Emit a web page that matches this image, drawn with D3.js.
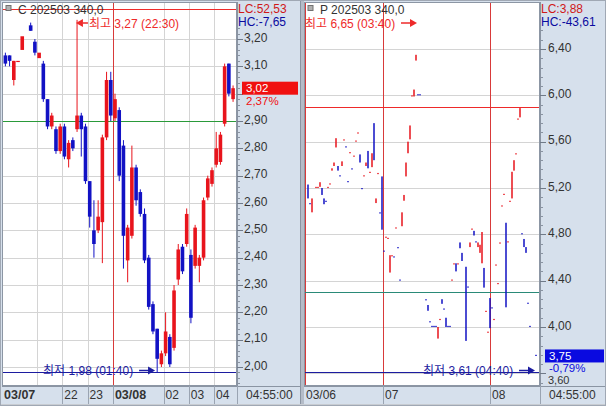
<!DOCTYPE html>
<html><head><meta charset="utf-8">
<script src="https://cdn.jsdelivr.net/npm/d3@7/dist/d3.min.js"></script>
<style>
html,body{margin:0;padding:0;background:#d6e0ec;overflow:hidden;}
svg{display:block;font-family:"Liberation Sans","Noto Sans CJK KR",sans-serif;font-size:12px;}
</style></head><body>
<svg id="c" width="606" height="406"></svg>
<script>
// ---------------- DATA ----------------
// Left panel: call option C 202503 340.0, 10-minute bars starting 19:40 (03/07)
const leftTitle = "C 202503 340,0";
const leftInfo = ["LC:52,53", "HC:-7,65"];
const leftStartTime = "19:40";
const leftBarMinutes = 10;
const leftOpen  = [3.14,3.14,3.05,3.12,3.16,null,3.25,3.19,3.13,3.11, 2.98,2.88,2.87,2.79,2.88,2.76,2.83,2.87,2.92,2.88, 2.68,2.50,2.50,2.53,2.84,3.05,2.91,2.94,2.81,2.39, 2.48,2.73,2.64,2.56,2.40,2.23,2.14,2.01,2.05,2.11, 2.07,2.32,2.44,2.45,2.41,2.37,2.37,2.40,2.62,2.67, 2.74,2.75,2.89,3.11,2.98];
const leftHigh  = [3.15,3.14,3.12,3.12,3.21,null,3.26,3.20,3.15,3.12, 2.98,2.93,2.88,2.89,2.89,2.83,2.84,3.27,2.93,2.89, 2.68,2.61,2.61,2.85,3.08,3.08,3.00,2.95,2.83,2.52, 2.81,2.74,2.65,2.58,2.41,2.24,2.14,2.06,2.20,2.12, 2.30,2.45,2.45,2.58,2.43,2.52,2.41,2.62,2.70,2.73, 2.86,2.86,3.11,3.11,3.03];
const leftLow   = [3.10,3.10,3.03,3.12,3.16,null,3.23,3.14,3.13,2.97, 2.87,2.87,2.78,2.78,2.76,2.73,2.79,2.86,2.77,2.67, 2.51,2.40,2.49,2.38,2.83,2.90,2.90,2.68,2.36,2.31, 2.47,2.59,2.55,2.38,2.21,2.12,1.98,2.00,2.04,2.00, 2.06,2.30,2.34,2.44,2.16,2.36,2.31,2.39,2.61,2.66, 2.73,2.74,2.88,2.99,2.97];
const leftClose = [3.11,3.12,3.12,3.12,3.21,null,3.23,3.15,3.15,2.98, 2.88,2.92,2.79,2.88,2.77,2.82,2.80,2.92,2.87,2.68, 2.55,2.45,2.55,2.84,3.05,2.92,2.98,2.70,2.48,2.51, 2.73,2.61,2.56,2.39,2.22,2.13,2.03,2.05,2.13,2.01, 2.28,2.43,2.35,2.56,2.18,2.51,2.40,2.61,2.69,2.72, 2.80,2.85,3.10,3.00,3.02];
// 3,00 is hidden behind the last-price box in the reference
const leftTickValues = [2.00,2.10,2.20,2.30,2.40,2.50,2.60,2.70,2.80,2.90,3.00,3.10,3.20];
const leftTickHidden = [3.00];
// hour axis (hours counted from 03/07 00:00)
const leftAxisHours  = [19.667, 22, 23, 24, 26, 27, 28];
const leftAxisLabels = ["03/07","22","23","03/08","02","03","04"];
const leftGridHours  = [21, 22, 23, 26, 27, 28];
const leftDayHours   = [24];
const leftLines = {upper: 3.31, middle: 2.90};
const leftHighMark = {hour: 22.5, value: 3.27, text: "최고 3,27 (22:30)"};
const leftLowMark  = {hour: 25.667, value: 1.98, text: "최저 1,98 (01:40)"};
const leftLast = {price: 3.02, text: "3,02", change: "2,37%"};

// Right panel: put option P 202503 340.0, thinly traded bars (slot index)
const rightTitle = "P 202503 340,0";
const rightInfo = ["LC:3,88", "HC:-43,61"];
const rightSlot  = [1,2,3,5,6,7,8,9,10,11, 12,13,14,15,16,17,18,19,20,21, 22,23,24,25,26,27,28,29,30,31, 32,33,34,35,36,37,38,39,40,41, 42,43,44,45,46,47,48,49,50,51, 52,53,54,55,56,57,60,61,62,63, 64,65,66,67,68,69,70,71,72,73, 74,75,76,77,78,80,81,82,83,84, 85,86,87,88,89,90,91,92,93,94, 95,96,97,98,99,100,101,102,103,104, 105,106,107,108,109,110,111,112,115];
const rightOpen  = [5.23,5.07,4.99,5.20,5.20,5.21,5.20,5.11,5.09,5.20, 5.23,5.35,5.39,5.55,5.39,5.31,5.39,5.61,5.56,5.26, 5.50,5.37,5.47,5.60,5.67,5.49,5.20,5.30,5.39,5.52, 5.33,5.38,5.76,5.07,5.32,4.99,5.30,4.66,4.77,4.76, 4.47,4.61,4.61,4.85,4.69,4.41,4.87,5.09,5.30,5.50, 5.62,5.99,5.99,6.30,6.01,6.01,4.24,4.19,4.05,4.01, 4.01,4.01,3.90,4.06,4.24,4.16,4.08,4.01,4.01,4.40, 4.54,4.55,4.54,4.73,4.64,4.52,4.35,4.69,4.84,4.83, 4.74,4.69,4.64,4.55,4.51,4.13,3.95,4.25,4.17,4.06, 4.53,4.37,4.72,5.04,5.14,4.90,4.73,5.08,5.11,5.35, 5.49,5.79,5.81,4.81,4.76,4.69,4.21,4.01,3.76];
const rightHigh  = [5.23,5.07,5.11,5.21,5.21,5.25,5.20,5.11,5.09,5.21, 5.24,5.37,5.42,5.63,5.39,5.31,5.43,5.62,5.56,5.26, 5.51,5.37,5.48,5.61,5.68,5.49,5.20,5.31,5.42,5.52, 5.34,5.50,5.76,5.11,5.33,4.99,5.30,4.66,4.78,4.77, 4.62,4.62,4.61,4.86,4.69,4.41,4.99,5.14,5.42,5.60, 5.74,6.00,6.05,6.35,6.01,6.01,4.24,4.19,4.05,4.01, 4.01,4.01,4.00,4.07,4.24,4.16,4.08,4.01,4.01,4.41, 4.55,4.55,4.55,4.73,4.64,4.52,4.35,4.73,4.85,4.83, 4.74,4.73,4.71,4.82,4.51,4.14,3.96,4.25,4.17,4.07, 4.54,4.38,4.73,5.05,5.15,4.90,4.74,5.09,5.34,5.44, 5.50,5.80,5.89,4.81,4.76,4.69,4.21,4.01,3.76];
const rightLow   = [5.11,5.06,4.99,5.20,5.20,5.21,5.14,5.06,5.08,5.20, 5.23,5.35,5.39,5.55,5.35,5.30,5.39,5.61,5.55,5.25, 5.50,5.36,5.47,5.60,5.67,5.42,5.19,5.30,5.39,5.37, 5.33,5.38,5.44,5.07,5.32,4.98,4.84,4.65,4.77,4.76, 4.47,4.61,4.60,4.85,4.68,4.40,4.87,5.09,5.30,5.50, 5.62,5.99,5.99,6.30,6.00,6.00,4.23,4.14,4.04,4.00, 4.00,4.00,3.90,4.06,4.20,4.15,4.00,4.00,4.00,4.40, 4.54,4.48,4.54,4.68,4.57,3.88,4.34,4.69,4.84,4.79, 4.73,4.69,4.64,4.55,4.34,4.13,3.95,3.99,4.16,4.06, 4.53,4.37,4.72,5.04,5.14,4.17,4.73,5.08,5.11,5.35, 5.49,5.79,5.81,4.80,4.69,4.64,4.20,4.00,3.75];
const rightClose = [5.11,5.06,5.11,5.21,5.21,5.25,5.14,5.06,5.08,5.21, 5.24,5.37,5.42,5.63,5.35,5.30,5.43,5.62,5.55,5.25, 5.51,5.36,5.48,5.61,5.68,5.42,5.19,5.31,5.42,5.37, 5.34,5.50,5.44,5.11,5.33,4.98,4.84,4.65,4.78,4.77, 4.62,4.62,4.60,4.86,4.68,4.40,4.99,5.14,5.42,5.60, 5.74,6.00,6.05,6.35,6.00,6.00,4.23,4.14,4.04,4.00, 4.00,4.00,4.00,4.07,4.20,4.15,4.00,4.00,4.00,4.41, 4.55,4.48,4.55,4.68,4.57,3.88,4.34,4.73,4.85,4.79, 4.73,4.73,4.71,4.82,4.34,4.14,3.96,3.99,4.16,4.07, 4.54,4.38,4.73,5.05,5.15,4.17,4.74,5.09,5.34,5.44, 5.50,5.80,5.89,4.80,4.69,4.64,4.20,4.00,3.75];
const rightTickValues = [3.60,4.00,4.40,4.80,5.20,5.60,6.00,6.40];
const rightTickHidden = [];
const rightTickLowered = [3.60]; // sits under the change label, nudged down
const rightDaySlots  = [-0.5, 38.5, 92];
const rightDayLabels = ["03/06","07","08"];
const rightLines = {upper: 5.90, middle: 4.30};
const rightHighMark = {slot: 55.5, value: 6.65, text: "최고 6,65 (03:40)"};
const rightLowMark  = {slot: 114.5, value: 3.61, text: "최저 3,61 (04:40)"};
const rightLast = {price: 3.75, text: "3,75", change: "-0,79%"};
const endTimeLabel = "04:55:00";

// ---------------- DRAWING ----------------
const svg = d3.select("#c");
const C = {axisBg:"#d6e0ec", frame:"#8c96a4", grid:"#d4d4d4", up:"#e8141c", down:"#1212c4",
           red:"#ee2a2a", day:"#d83a3a", green:"#2a9a3a", green2:"#2a8a78", lowLine:"#1c1ca0", text:"#333"};
const fmt = v => d3.format(".2f")(v).replace(".", ",");

svg.append("rect").attr("width",606).attr("height",406).attr("fill",C.axisBg);

function panel(o){
  const g = svg.append("g");
  const {x0,x1,y0,y1} = o.box;
  const clipId = "clip"+o.id;
  svg.append("clipPath").attr("id",clipId).append("rect").attr("x",x0).attr("y",y0).attr("width",x1-x0).attr("height",y1-y0);
  g.append("rect").attr("x",x0).attr("y",y0).attr("width",x1-x0).attr("height",y1-y0).attr("fill","#fff");
  const p = g.append("g").attr("clip-path",`url(#${clipId})`);
  p.append("g").selectAll("line").data(o.ticks).join("line")
    .attr("x1",x0).attr("x2",x1).attr("y1",d=>Math.round(o.y(d))+0.5).attr("y2",d=>Math.round(o.y(d))+0.5)
    .attr("stroke",C.grid);
  p.append("g").selectAll("line").data(o.vgrid).join("line")
    .attr("x1",d=>Math.round(d)+0.5).attr("x2",d=>Math.round(d)+0.5).attr("y1",y0).attr("y2",y1).attr("stroke",C.grid);
  p.append("g").selectAll("line").data(o.days).join("line")
    .attr("x1",d=>Math.round(d)+0.5).attr("x2",d=>Math.round(d)+0.5).attr("y1",y0).attr("y2",y1).attr("stroke",C.day);
  const hl = (v,col)=>p.append("line").attr("x1",x0).attr("x2",x1)
      .attr("y1",Math.round(o.y(v))+0.5).attr("y2",Math.round(o.y(v))+0.5).attr("stroke",col);
  hl(o.lines.upper, C.red);
  hl(o.lines.middle, o.greenCol);
  hl(o.lowMark.value, C.lowLine);
  // candles
  const bars = o.bars;
  let prevC = null, prevUp = false;
  bars.forEach(b=>{
    const up = b.c > b.o ? true : b.c < b.o ? false : (prevC!=null && b.c>prevC ? true : (prevC!=null && b.c<prevC ? false : prevUp));
    b.up = up; prevC = b.c; prevUp = up;
  });
  const cg = p.append("g");
  cg.append("g").selectAll("line").data(bars.filter(b=>b.h>Math.max(b.o,b.c)||b.l<Math.min(b.o,b.c))).join("line")
    .attr("x1",b=>o.x(b.t)).attr("x2",b=>o.x(b.t))
    .attr("y1",b=>o.y(b.h)).attr("y2",b=>o.y(b.l))
    .attr("stroke",b=>b.up?C.up:C.down).attr("stroke-width",1);
  cg.append("g").selectAll("rect").data(bars).join("rect")
    .attr("x",b=>o.x(b.t)-o.bw/2).attr("width",o.bw)
    .attr("y",b=>o.y(Math.max(b.o,b.c)))
    .attr("height",b=>Math.max(1.2, o.y(Math.min(b.o,b.c))-o.y(Math.max(b.o,b.c))))
    .attr("fill",b=>b.up?C.up:C.down);
  g.append("rect").attr("x",x0+0.5).attr("y",y0+0.5).attr("width",x1-x0-1).attr("height",y1-y0-1)
    .attr("fill","none").attr("stroke",C.frame);
  // title
  g.append("rect").attr("x",x0+4).attr("y",5.5).attr("width",5).attr("height",5).attr("fill","#b0b0b0").attr("stroke","#707070");
  g.append("text").attr("x",x0+16).attr("y",14).attr("fill",C.text).text(o.title);
  // high mark
  const hx = o.x(o.highMark.t);
  if(o.highMark.dir<0){
    g.append("path").attr("d",`M${hx+1},23 L${hx+8},19 L${hx+8},27 Z`).attr("fill",C.red);
    g.append("line").attr("x1",hx+8).attr("x2",hx+13).attr("y1",23).attr("y2",23).attr("stroke",C.red).attr("stroke-width",1.5);
    g.append("text").attr("x",hx+14).attr("y",27.5).attr("fill",C.red).text(o.highMark.text);
  } else {
    g.append("text").attr("x",x0+1).attr("y",27.5).attr("fill",C.red).text(o.highMark.text);
    g.append("line").attr("x1",hx-16).attr("x2",hx-6).attr("y1",23).attr("y2",23).attr("stroke",C.red).attr("stroke-width",1.5);
    g.append("path").attr("d",`M${hx},23 L${hx-7},19 L${hx-7},27 Z`).attr("fill",C.red);
  }
  // low mark
  const lx = o.x(o.lowMark.t);
  g.append("text").attr("x",lx-112).attr("y",375).attr("fill",C.lowLine).text(o.lowMark.text);
  g.append("line").attr("x1",lx-16).attr("x2",lx-6).attr("y1",370.5).attr("y2",370.5).attr("stroke",C.lowLine).attr("stroke-width",1.5);
  g.append("path").attr("d",`M${lx},370.5 L${lx-7},366.5 L${lx-7},374.5 Z`).attr("fill",C.lowLine);

  // y-axis column
  const ax = x1;
  g.append("line").attr("x1",ax+0.5).attr("x2",ax+0.5).attr("y1",y0).attr("y2",y1).attr("stroke","#8a94a2");
  g.append("g").selectAll("line").data(o.minor).join("line")
    .attr("x1",ax).attr("x2",ax+3).attr("y1",d=>Math.round(o.y(d))+0.5).attr("y2",d=>Math.round(o.y(d))+0.5).attr("stroke","#8a94a2");
  g.append("g").selectAll("line").data(o.ticks).join("line")
    .attr("x1",ax).attr("x2",ax+6).attr("y1",d=>Math.round(o.y(d))+0.5).attr("y2",d=>Math.round(o.y(d))+0.5).attr("stroke","#707a88");
  g.append("g").selectAll("text").data(o.ticks.filter(v=>!o.hidden.includes(v))).join("text")
    .attr("x",ax+o.labelDx)
    .attr("y",d=>o.lowered.includes(d) ? Math.min(o.y(d)+11, y1-1.5) : o.y(d)+2.5)
    .attr("font-size",d=>o.lowered.includes(d)?"11px":null)
    .attr("fill",C.text).text(fmt);
  // info texts
  g.append("rect").attr("x",ax+1).attr("y",1).attr("width",o.colW-1).attr("height",26).attr("fill",C.axisBg);
  g.append("text").attr("x",ax+1).attr("y",13).attr("fill","#d01818").text(o.info[0]);
  g.append("text").attr("x",ax+1).attr("y",26).attr("fill","#0a0aa0").text(o.info[1]);
  // last price box
  const ly = o.y(o.last.price);
  g.append("rect").attr("x",ax+o.boxDx).attr("y",ly-6.5).attr("width",o.colW-o.boxDx-2).attr("height",13).attr("fill",o.last.col);
  g.append("text").attr("x",ax+o.boxDx+4).attr("y",ly+4).attr("font-size","11.5px").attr("fill","#fff").text(o.last.text);
  g.append("text").attr("x",ax+o.boxDx+4).attr("y",ly+16.5).attr("font-size","11.5px").attr("fill",o.last.col).text(o.last.change);

  // bottom axis band
  const by0 = y1, by1 = 404;
  g.append("rect").attr("x",x0).attr("y",by0).attr("width",x1-x0+o.colW).attr("height",by1-by0).attr("fill",C.axisBg);
  g.append("line").attr("x1",x0).attr("x2",x1+o.colW).attr("y1",by0+0.5).attr("y2",by0+0.5).attr("stroke","#8a94a2");
  g.append("g").selectAll("line").data(o.xLabels.slice(1).map(d=>d.x).concat([x1])).join("line")
    .attr("x1",d=>Math.round(d)+0.5).attr("x2",d=>Math.round(d)+0.5).attr("y1",by0).attr("y2",by1).attr("stroke","#9aa4b2");
  g.append("g").selectAll("text").data(o.xLabels).join("text")
    .attr("x",d=>d.x+2).attr("y",399).attr("fill",C.text)
    .attr("font-weight",d=>d.bold?"bold":"normal").attr("font-size",d=>d.bold?"12.5px":"12px").text(d=>d.label);
  g.append("text").attr("x",x1+9).attr("y",399).attr("fill",C.text).text(endTimeLabel);
}

// ---- left panel
const yL = d3.scaleLinear().domain([2.00,3.20]).range([367,39]);
const xL = d3.scaleLinear().domain([21,28]).range([37,214.1]);
const [sh, sm] = leftStartTime.split(":").map(Number);
const leftStartHour = sh + sm/60;
const leftBars = leftOpen.map((o,i)=>({t:leftStartHour + (i+0.5)*leftBarMinutes/60, o, h:leftHigh[i], l:leftLow[i], c:leftClose[i]}))
  .filter(b=>b.o!=null);
panel({
  id:"L", box:{x0:2,x1:237,y0:2,y1:386}, x:xL, y:yL, bw:3.6, bars:leftBars,
  ticks:leftTickValues, hidden:leftTickHidden, lowered:[], minor:d3.range(97,167).map(k=>k*0.02),
  vgrid:leftGridHours.map(xL), days:leftDayHours.map(xL),
  lines:leftLines, greenCol:C.green,
  title:leftTitle, info:leftInfo, colW:63, labelDx:7, boxDx:5,
  highMark:{t:leftHighMark.hour, text:leftHighMark.text, dir:-1},
  lowMark:{t:leftLowMark.hour, value:leftLowMark.value, text:leftLowMark.text},
  last:{...leftLast, col:"#f01010"},
  xLabels:leftAxisHours.map((h,i)=>({x:i===0?2:xL(h), label:leftAxisLabels[i], bold:leftAxisLabels[i].includes("/")}))
});

// ---- right panel
const yR = d3.scaleLinear().domain([4.00,6.40]).range([327,49]);
const xR = d3.scaleLinear().domain([0,117]).range([306,540]);
const rightBars = rightSlot.map((s,i)=>({t:s, o:rightOpen[i], h:rightHigh[i], l:rightLow[i], c:rightClose[i]}));
panel({
  id:"R", box:{x0:304,x1:540,y0:2,y1:386}, x:xR, y:yR, bw:1.5, bars:rightBars,
  ticks:rightTickValues, hidden:rightTickHidden, lowered:rightTickLowered, minor:d3.range(44,86).map(k=>k*0.08),
  vgrid:[], days:rightDaySlots.map(xR),
  lines:rightLines, greenCol:C.green2,
  title:rightTitle, info:rightInfo, colW:66, labelDx:8, boxDx:5,
  highMark:{t:rightHighMark.slot, text:rightHighMark.text, dir:1},
  lowMark:{t:rightLowMark.slot, value:rightLowMark.value, text:rightLowMark.text},
  last:{...rightLast, col:"#0a0ae0"},
  xLabels:rightDaySlots.map((s,i)=>({x:i===0?304:xR(s), label:rightDayLabels[i], bold:false}))
});

// panel separator & bottom strip
svg.append("rect").attr("x",300).attr("y",0).attr("width",4).attr("height",406).attr("fill","#b4bcc8");
svg.append("line").attr("x1",300.5).attr("x2",300.5).attr("y1",0).attr("y2",406).attr("stroke","#8a94a2");
svg.append("rect").attr("x",0).attr("y",404).attr("width",606).attr("height",2).attr("fill","#c8ccd2");
svg.append("rect").attr("x",0.5).attr("y",0.5).attr("width",605).attr("height",405).attr("fill","none").attr("stroke","#a0a8b4");
</script>
</body></html>
